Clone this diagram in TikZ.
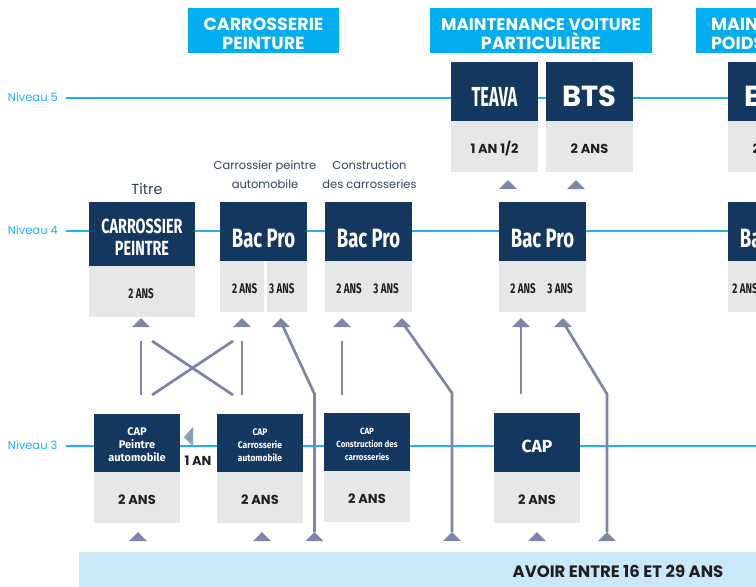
\documentclass[tikz,border=0pt]{standalone}
\usepackage{fontspec}
\setmainfont{Poppins}
\newfontfamily\cond[FakeStretch=0.7]{Fira Sans}
\newfontfamily\condB[FakeStretch=0.6]{Fira Sans}
\newfontfamily\firaN[FakeStretch=0.88]{Fira Sans}
\newfontfamily\fira{Fira Sans}
\definecolor{dk}{HTML}{14375F}
\definecolor{gy}{HTML}{E6E7E9}
\definecolor{hd}{HTML}{00AEEF}
\definecolor{lv}{HTML}{1DB3EE}
\definecolor{cn}{HTML}{7F85A4}
\definecolor{lt}{HTML}{8C9EB2}
\definecolor{band}{HTML}{C9E9F9}
\definecolor{lab}{HTML}{2E4260}
\definecolor{tx}{HTML}{231F20}
\tikzset{
  box/.style={inner sep=0pt, outer sep=0pt, draw=none},
  dkbox/.style={box, fill=dk},
  gybox/.style={box, fill=gy},
  hdr/.style={box, fill=hd},
  wt/.style={inner sep=0pt, outer sep=0pt, text=white, anchor=base},
  bt/.style={inner sep=0pt, outer sep=0pt, text=tx, anchor=base},
  lb/.style={inner sep=0pt, outer sep=0pt, text=lab, anchor=base, font=\fontsize{11.5}{13}\selectfont},
  lvlab/.style={inner sep=0pt, outer sep=0pt, anchor=base west, text=lv, font=\fontsize{11.5}{13}\selectfont},
  lvl/.style={draw=lv, line width=1.3pt},
  conn/.style={draw=cn, line width=2.7pt},
  hdf/.style={font=\fontsize{17.5}{19}\selectfont\bfseries},
  hdfs/.style={font=\fontsize{16.8}{19}\selectfont\bfseries},
  bacf/.style={font=\fontsize{26.5}{28}\selectfont\cond\bfseries},
  g4f/.style={font=\fontsize{14}{16}\selectfont\cond\bfseries},
  g3f/.style={font=\fontsize{13}{15}\selectfont\bfseries},
  capa/.style={font=\fontsize{11}{13}\selectfont\fira\bfseries},
  capb/.style={font=\fontsize{9.6}{12}\selectfont\firaN\bfseries},
  capc/.style={font=\fontsize{9}{11}\selectfont\firaN\bfseries},
  tri/.pic={\fill[cn] (-9,9) -- (0,0) -- (9,9) -- cycle;},
}
\begin{document}
\begin{tikzpicture}[x=1pt,y=-1pt]
\clip (0,0) rectangle (756,587);
\fill[white] (0,0) rectangle (756,587);

% level lines
\coordinate (n5a) at (66,98);  \coordinate (n5b) at (756,98);
\coordinate (n4a) at (66,231); \coordinate (n4b) at (756,231);
\coordinate (n3a) at (66,446); \coordinate (n3b) at (756,446);
\draw[lvl] (n5a) -- (n5b);
\draw[lvl] (n4a) -- (n4b);
\draw[lvl] (n3a) -- (n3b);
\node[lvlab] (l5) at (8,101.5) {Niveau 5};
\node[lvlab] (l4) at (8,234.5) {Niveau 4};
\node[lvlab] (l3) at (8,449.5) {Niveau 3};

% headers
\node[hdr, minimum width=151pt, minimum height=45pt] (h1) at (263.5,30.5) {};
\node[wt, hdf] (h1a) at (263.5,30) {CARROSSERIE};
\node[wt, hdf] (h1b) at (263.5,49.3) {PEINTURE};
\node[hdr, minimum width=222pt, minimum height=45pt] (h2) at (541,30.5) {};
\node[wt, hdfs] (h2a) at (541,30) {MAINTENANCE VOITURE};
\node[wt, hdf] (h2b) at (541,49.3) {PARTICULIÈRE};
\node[hdr, minimum width=222pt, minimum height=45pt] (h3) at (807,30.5) {};
\node[wt, hdf, anchor=base west] (h3a) at (711,30) {MAINTENANCE};
\node[wt, hdf, anchor=base west] (h3b) at (711,49.3) {POIDS LOURDS};

% level 5
\node[dkbox, minimum width=87pt, minimum height=59pt] (teava) at (494.5,91.5) {};
\node[gybox, minimum width=87pt, minimum height=51pt] (teavag) at (494.5,146.5) {};
\node[wt, font=\fontsize{27.5}{29}\selectfont\condB\bfseries] (teavat) at (494.5,106) {TEAVA};
\node[bt, g3f] (teavad) at (494.5,153) {1 AN 1/2};
\node[dkbox, minimum width=87pt, minimum height=59pt] (bts) at (589.5,91.5) {};
\node[gybox, minimum width=87pt, minimum height=51pt] (btsg) at (589.5,146.5) {};
\node[wt, font=\fontsize{29}{31}\selectfont\bfseries] (btst) at (589.5,106) {BTS};
\node[bt, g3f] (btsd) at (589.5,153) {2 ANS};
\node[dkbox, minimum width=87pt, minimum height=59pt] (btsr) at (771.5,91.5) {};
\node[gybox, minimum width=87pt, minimum height=51pt] (btsrg) at (771.5,146.5) {};
\node[wt, font=\fontsize{29}{31}\selectfont\bfseries] (btsrt) at (771.5,106) {BTS};
\node[bt, g3f] (btsrd) at (771.5,153) {2 ANS};

% level 4 labels
\node[inner sep=0pt, text=lab, anchor=base, font=\fontsize{14.5}{16}\selectfont] (titre) at (147,194) {Titre};
\node[lb] (cpa) at (265,169) {Carrossier peintre};
\node[lb] (cpb) at (265,188) {automobile};
\node[lb] (cca) at (369.5,169) {Construction};
\node[lb] (ccb) at (369.5,188) {des carrosseries};

% level 4
\node[dkbox, minimum width=106pt, minimum height=64pt] (cp) at (142,234) {};
\node[gybox, minimum width=106pt, minimum height=51pt] (cpg) at (142,291.5) {};
\node[wt, font=\fontsize{20.5}{22}\selectfont\cond\bfseries] (cpt1) at (142,233) {CARROSSIER};
\node[wt, font=\fontsize{20.5}{22}\selectfont\cond\bfseries] (cpt2) at (142,255) {PEINTRE};
\node[bt, g4f] (cpd) at (141,298) {2 ANS};

\node[dkbox, minimum width=87pt, minimum height=59pt] (bp1) at (263.5,231.5) {};
\node[gybox, minimum width=87pt, minimum height=51pt] (bp1g) at (263.5,286.5) {};
\node[box, fill=white, minimum width=3pt, minimum height=51pt] (bp1s) at (265.5,286.5) {};
\node[wt, bacf] (bp1t) at (263.5,247) {Bac Pro};
\node[bt, g4f] (bp1d) at (244.7,293) {2 ANS};
\node[bt, g4f] (bp1e) at (281.8,293) {3 ANS};

\node[dkbox, minimum width=87pt, minimum height=59pt] (bp2) at (368.5,231.5) {};
\node[gybox, minimum width=87pt, minimum height=51pt] (bp2g) at (368.5,286.5) {};
\node[wt, bacf] (bp2t) at (368.5,247) {Bac Pro};
\node[bt, g4f] (bp2d) at (349,293) {2 ANS};
\node[bt, g4f] (bp2e) at (386,293) {3 ANS};

\node[dkbox, minimum width=87pt, minimum height=59pt] (bp3) at (542.5,231.5) {};
\node[gybox, minimum width=87pt, minimum height=51pt] (bp3g) at (542.5,286.5) {};
\node[wt, bacf] (bp3t) at (542.5,247) {Bac Pro};
\node[bt, g4f] (bp3d) at (523,293) {2 ANS};
\node[bt, g4f] (bp3e) at (560,293) {3 ANS};

\node[dkbox, minimum width=87pt, minimum height=59pt] (bp4) at (771.5,231.5) {};
\node[gybox, minimum width=87pt, minimum height=51pt] (bp4g) at (771.5,286.5) {};
\node[wt, bacf] (bp4t) at (771.5,247) {Bac Pro};
\node[bt, g4f] (bp4d) at (745,293) {2 ANS};
\node[bt, g4f] (bp4e) at (782,293) {3 ANS};

% level 3
\node[dkbox, minimum width=86pt, minimum height=58pt] (c1) at (137,443) {};
\node[gybox, minimum width=86pt, minimum height=51pt] (c1g) at (137,497.5) {};
\node[wt, capa] (c1a) at (137,435) {CAP};
\node[wt, capa] (c1b) at (137,448) {Peintre};
\node[wt, capa] (c1c) at (137,461) {automobile};
\node[bt, g3f] (c1d) at (137,504) {2 ANS};

\node[dkbox, minimum width=86pt, minimum height=58pt] (c2) at (260,443) {};
\node[gybox, minimum width=86pt, minimum height=51pt] (c2g) at (260,497.5) {};
\node[wt, capb] (c2a) at (260,435) {CAP};
\node[wt, capb] (c2b) at (260,448) {Carrosserie};
\node[wt, capb] (c2c) at (260,461) {automobile};
\node[bt, g3f] (c2d) at (260,504) {2 ANS};

\node[dkbox, minimum width=86pt, minimum height=58pt] (c3) at (367,442) {};
\node[gybox, minimum width=86pt, minimum height=51pt] (c3g) at (367,496.5) {};
\node[wt, capc] (c3a) at (367,434) {CAP};
\node[wt, capc] (c3b) at (367,447) {Construction des};
\node[wt, capc] (c3c) at (367,460) {carrosseries};
\node[bt, g3f] (c3d) at (367,503) {2 ANS};

\node[dkbox, minimum width=86pt, minimum height=59pt] (c4) at (537,442.5) {};
\node[gybox, minimum width=86pt, minimum height=51pt] (c4g) at (537,497.5) {};
\node[wt, font=\fontsize{17.5}{19}\selectfont\fira\bfseries] (c4a) at (537,452) {CAP};
\node[bt, g3f] (c4d) at (537,504) {2 ANS};

% 1 AN
\coordinate (lt1) at (184,437);
\coordinate (lt2) at (193,427);
\coordinate (lt3) at (193,446);
\fill[lt] (lt1) -- (lt2) -- (lt3) -- cycle;
\node[bt, g3f] (unan) at (198,465) {1 AN};

% band
\node[box, fill=band, minimum width=677pt, minimum height=35pt] (band) at (417.5,569.5) {};
\node[bt, font=\fontsize{16.5}{18}\selectfont\bfseries] (avoir) at (618,577.5) {AVOIR ENTRE 16 ET 29 ANS};

% triangles
\foreach \n/\x/\y in {t1/141/318, t2/242/318, t3/281/318, t4/342/318, t5/402/318, t6/521/318, t7/563/318,
  u1/508/180, u2/576/180,
  b1/138/532, b2/262/532, b3/314.5/532, b4/452/532, b5/537/532, b6/607/532}{
  \coordinate (\n) at (\x,\y);
  \pic at (\n) {tri};
}

% connectors
\coordinate (v1a) at (141,341); \coordinate (v1b) at (141,395);
\coordinate (v2a) at (242,341); \coordinate (v2b) at (242,395);
\coordinate (x1a) at (152,341); \coordinate (x1b) at (233,395);
\coordinate (x2a) at (233,341); \coordinate (x2b) at (152,395);
\coordinate (v4a) at (342,341); \coordinate (v4b) at (342,395);
\coordinate (k3) at (314.5,394);
\coordinate (k5) at (452,393);
\coordinate (k6) at (521,394);
\coordinate (k7) at (607,394);
\draw[conn] (v1a) -- (v1b);
\draw[conn] (v2a) -- (v2b);
\draw[conn] (x1a) -- (x1b);
\draw[conn] (x2a) -- (x2b);
\draw[conn] (v4a) -- (v4b);
\draw[conn] ([yshift=-4pt]t3) -- (k3) -- (b3);
\draw[conn] ([yshift=-4pt]t5) -- (k5) -- (b4);
\draw[conn] ([yshift=-4pt]t6) -- (k6);
\draw[conn] ([yshift=-4pt]t7) -- (k7) -- (b6);
\end{tikzpicture}
\end{document}
